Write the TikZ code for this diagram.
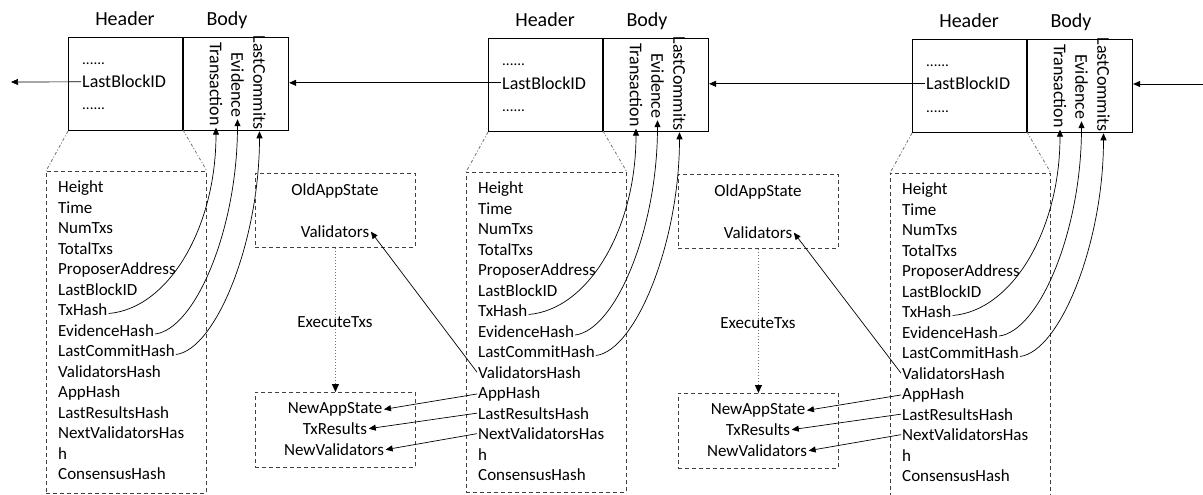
\documentclass[tikz,border=0pt]{standalone}
\usepackage{fontspec}
\setmainfont{Carlito}
\usetikzlibrary{arrows.meta}
\tikzset{
 blockbox/.style={draw, line width=1.1pt, minimum width=220pt, minimum height=93pt, inner sep=0pt},
 blockline/.style={line width=1.1pt},
 hdr/.style={font=\fontsize{20}{24}\selectfont, inner sep=0pt, anchor=base},
 btxt/.style={font=\fontsize{18}{22}\selectfont, inner sep=1pt, anchor=base west},
 dtxt/.style={font=\fontsize{15}{18}\selectfont, inner sep=1pt, anchor=base west},
 vtxt/.style={font=\fontsize{18}{22}\selectfont, inner sep=1.5pt, rotate=-90},
 ltxt/.style={font=\fontsize{17}{20}\selectfont, inner sep=1pt, anchor=base west},
 stxt/.style={font=\fontsize{17}{20}\selectfont, inner sep=1.5pt, anchor=base},
 dbox/.style={draw=black!75, line width=0.9pt, dash pattern=on 4pt off 3pt, inner sep=0pt},
 trap/.style={draw=black!55, line width=0.8pt, dash pattern=on 3pt off 2pt on 1pt off 2pt},
 arr/.style={draw, line width=0.7pt, -{Triangle[length=7pt,width=6pt]}},
 dotarr/.style={draw=black!55, line width=1pt, dash pattern=on 1.5pt off 1.5pt, -{Triangle[length=8pt,width=7pt,color=black]}},
}
\newcommand\drawblk[4]{%
\begin{scope}[shift={(#2,#3)}]
\node[blockbox, anchor=north west] (#1box) at (68,37) {};
\coordinate (#1dvt) at (183,37);
\coordinate (#1dvb) at (183,130);
\draw[blockline] (#1dvt) -- (#1dvb);
\node[hdr] (#1hl) at (125,26) {Header};
\node[hdr] (#1bl) at (227,26) {Body};
\node[dtxt] (#1d1) at (81,64.5) {......};
\node[btxt] (#1lb) at (81,88) {LastBlockID};
\node[dtxt] (#1d2) at (81,110) {......};
\node[vtxt] (#1tr) at (216,84) {Transaction};
\node[vtxt] (#1ev) at (237.5,85) {Evidence};
\node[vtxt] (#1lc) at (259.5,82.5) {LastCommits};
\node[dbox, minimum width=160pt, minimum height=#4pt, anchor=north west] (#1lst) at (46,171) {};
\draw[trap] (#1box.south west) -- (#1lst.north west);
\draw[trap] (#1dvb) -- (#1lst.north east);
\foreach \t [count=\i] in {Height,Time,NumTxs,TotalTxs,ProposerAddress,LastBlockID,TxHash,EvidenceHash,LastCommitHash,ValidatorsHash,AppHash,LastResultsHash,NextValidatorsHas,h,ConsensusHash}
  \node[ltxt] (#1l\i) at (57,{172+20.5*\i}) {\t};
\draw[arr] ([yshift=2pt]#1l7.base east) .. controls +(60,-5) and +(0,100) .. (#1tr.east);
\draw[arr] ([yshift=2pt]#1l8.base east) .. controls +(40,-5) and +(0,110) .. (#1ev.east);
\draw[arr] ([yshift=2pt]#1l9.base east) .. controls +(40,-5) and +(0,110) .. (#1lc.east);
\end{scope}}
\newcommand\drawstate[3]{%
\begin{scope}[shift={(#2,#3)}]
\node[dbox, minimum width=160pt, minimum height=74pt, anchor=north west] (#1old) at (255,173) {};
\node[stxt] (#1oas) at (335,195.5) {OldAppState};
\node[stxt] (#1val) at (335,237.5) {Validators};
\node[dbox, minimum width=160pt, minimum height=75pt, anchor=north west] (#1new) at (255,392) {};
\node[stxt] (#1nas) at (335,413.5) {NewAppState};
\node[stxt] (#1txr) at (335,434.5) {TxResults};
\node[stxt] (#1nv) at (334,455.5) {NewValidators};
\draw[dotarr] (#1old.south) -- (#1new.north);
\node[stxt] (#1ex) at (335,327.5) {ExecuteTxs};
\end{scope}}
\begin{document}
\begin{tikzpicture}[x=1pt,y=-1pt]
\useasboundingbox (0,0) rectangle (1203,495);
\clip (0,0) rectangle (1203,495);
\drawblk{b1}{0}{0}{322}
\drawblk{b2}{420}{1}{320}
\drawblk{b3}{844}{2}{340}
\drawstate{s1}{0}{0}
\drawstate{s2}{423}{1}
\coordinate (leftend) at (11,82);
\coordinate (rightend) at (1203,84);
\draw[arr] (b1lb.west) -- (leftend);
\draw[arr] (b2lb.west) -- (b2lb.west -| b1box.east);
\draw[arr] (b3lb.west) -- (b3lb.west -| b2box.east);
\draw[arr] (rightend) -- (rightend -| b3box.east);
\draw[arr] (b2l10.west) -- (s1val.east);
\draw[arr] (b2l11.west) -- (s1nas.east);
\draw[arr] (b2l12.west) -- (s1txr.east);
\draw[arr] (b2l13.west) -- (s1nv.east);
\draw[arr] (b3l10.west) -- (s2val.east);
\draw[arr] (b3l11.west) -- (s2nas.east);
\draw[arr] (b3l12.west) -- (s2txr.east);
\draw[arr] (b3l13.west) -- (s2nv.east);
\end{tikzpicture}
\end{document}
